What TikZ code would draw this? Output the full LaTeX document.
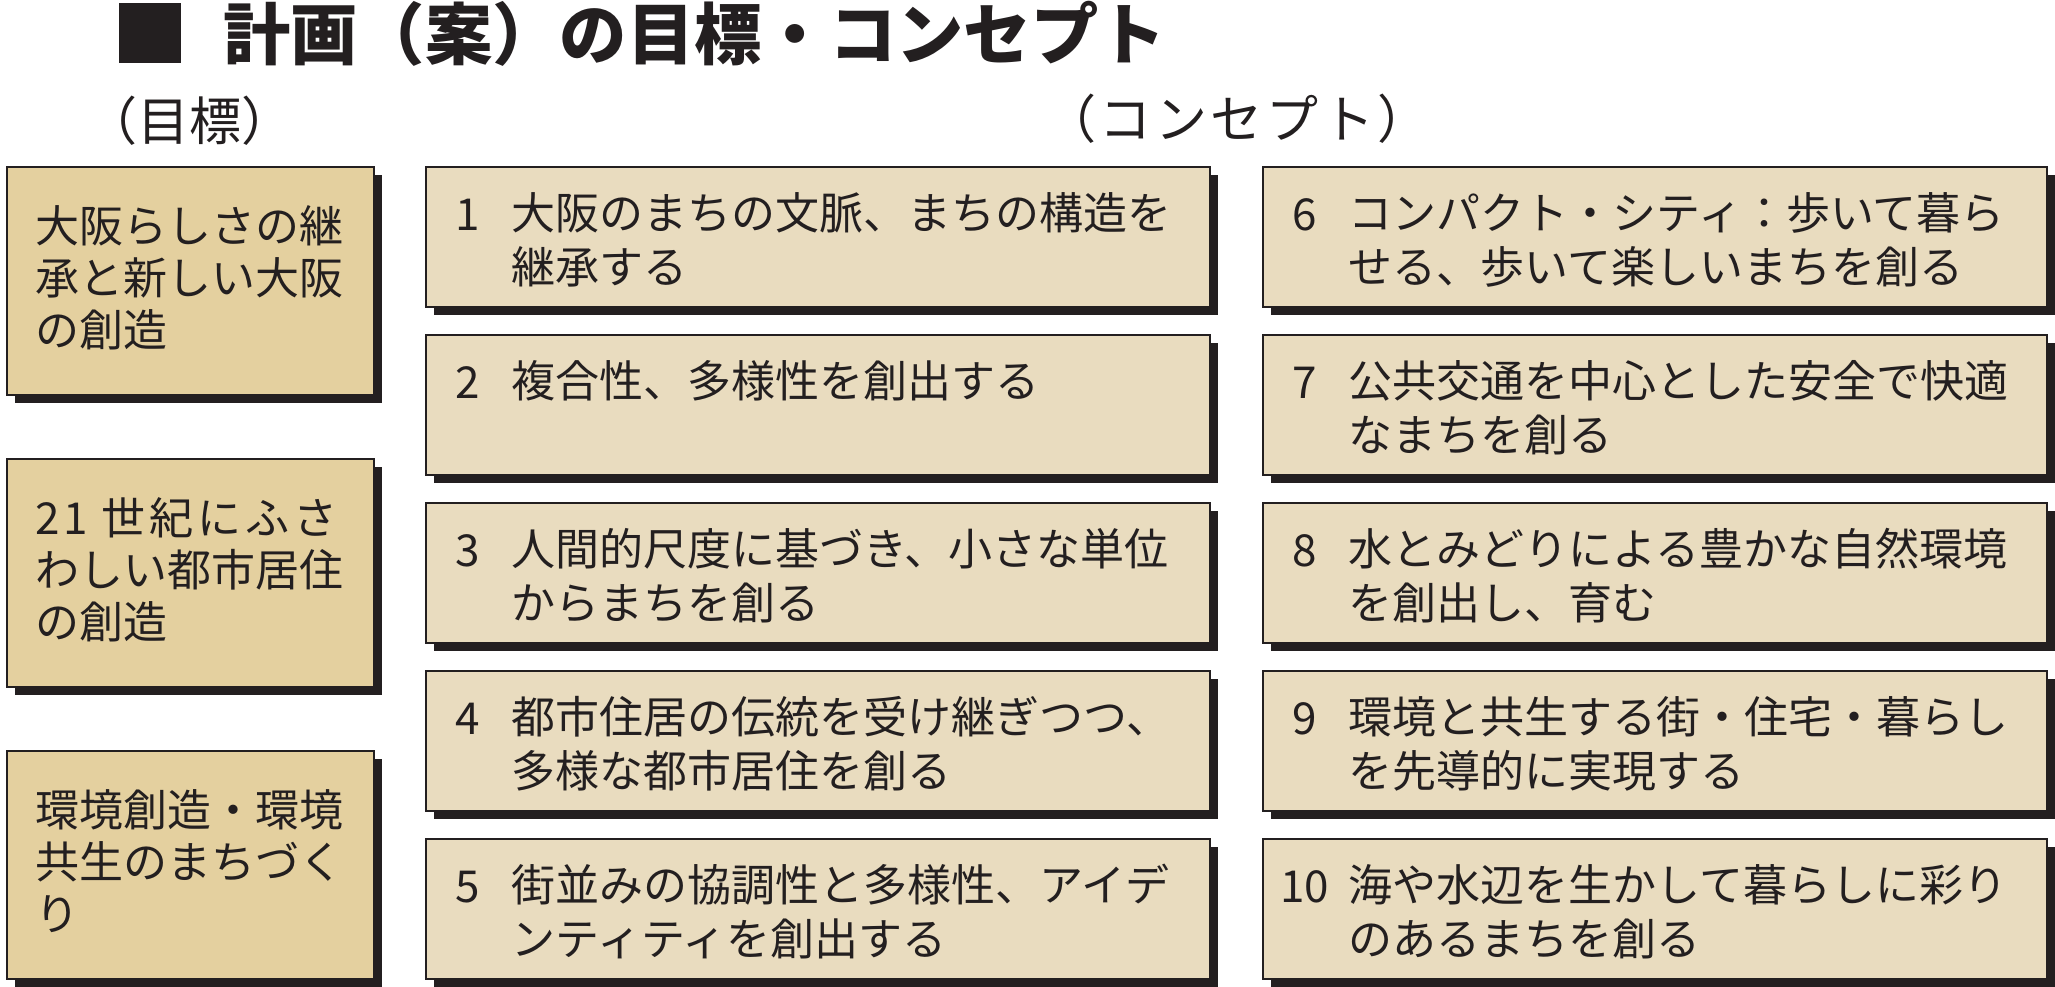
\documentclass[tikz,border=0pt]{standalone}
\usepackage{fontspec}
\setmainfont{Noto Sans CJK JP}
\usepackage{tikz}
\usetikzlibrary{positioning,shadows,calc}

\definecolor{goalfill}{HTML}{E4D09F}
\definecolor{conceptfill}{HTML}{E9DCBF}
\definecolor{inkdark}{HTML}{231F20}

\begin{document}
\begin{tikzpicture}[
  x=0.75pt, y=-0.75pt,
  goal/.style={draw=inkdark, line width=1.5pt, fill=goalfill, anchor=north west,
               minimum width=275pt, minimum height=171pt, inner sep=0pt, outer sep=0pt,
               drop shadow={shadow xshift=6pt, shadow yshift=-6pt, fill=inkdark, opacity=1}},
  concept/.style={goal, fill=conceptfill, minimum width=588pt, minimum height=105pt},
  goaltext/.style={anchor=north west, align=left, inner sep=0pt, text=inkdark,
                   font=\fontsize{33}{39}\selectfont},
  ctext/.style={goaltext, font=\fontsize{33}{40.5}\selectfont},
  num/.style={anchor=north, inner sep=0pt, text=inkdark, text height=28.4pt,
              font=\fontsize{33}{40.5}\selectfont},
  headtext/.style={inner sep=0pt, text=inkdark, font=\fontsize{39}{44}\selectfont}
]
\useasboundingbox (0,0) rectangle (2055,987);

% title
\node[fill=inkdark, minimum width=46.5pt, minimum height=45pt, inner sep=0pt] (sq) at (150,33) {};
\node[anchor=west, inner sep=0pt, text=inkdark, font=\fontsize{50.5}{56}\selectfont\bfseries] (title) at (223,34) {計画（案）の目標・コンセプト};
\node[headtext] (goalhead) at (189,121) {（目標）};
\node[headtext] (concepthead) at (1237,119) {\addfontfeatures{LetterSpace=7}（コンセプト）};

% goals
\node[goal] (g1) at (7,167) {};
\node[goal, below=48pt of g1.south west, anchor=north west] (g2) {};
\node[goal, below=48pt of g2.south west, anchor=north west] (g3) {};
\node[goaltext] (gt1) at ($(g1.north west)+(28,38)$) {大阪らしさの継\\承と新しい大阪\\の創造};
\node[goaltext] (gt2) at ($(g2.north west)+(28,38)$) {{\addfontfeatures{LetterSpace=9}21\hspace{10pt}世紀にふさ}\\わしい都市居住\\の創造};
\node[goaltext] (gt3) at ($(g3.north west)+(28,38)$) {環境創造・環境\\共生のまちづく\\り};

% concepts 1-5
\node[concept, right=39pt of g1.north east, anchor=north west] (c1) {};
\node[concept, below=21pt of c1.south west, anchor=north west] (c2) {};
\node[concept, below=21pt of c2.south west, anchor=north west] (c3) {};
\node[concept, below=21pt of c3.south west, anchor=north west] (c4) {};
\node[concept, below=21pt of c4.south west, anchor=north west] (c5) {};

% concepts 6-10
\node[concept, right=39.75pt of c1.north east, anchor=north west] (c6) {};
\node[concept, below=21pt of c6.south west, anchor=north west] (c7) {};
\node[concept, below=21pt of c7.south west, anchor=north west] (c8) {};
\node[concept, below=21pt of c8.south west, anchor=north west] (c9) {};
\node[concept, below=21pt of c9.south west, anchor=north west] (c10) {};

\node[num] (n1) at ($(c1.north west)+(42,25)$) {1};
\node[ctext] (t1) at ($(c1.north west)+(86,25)$) {大阪のまちの文脈、まちの構造を\\継承する};
\node[num] (n2) at ($(c2.north west)+(42,25)$) {2};
\node[ctext] (t2) at ($(c2.north west)+(86,25)$) {複合性、多様性を創出する};
\node[num] (n3) at ($(c3.north west)+(42,25)$) {3};
\node[ctext] (t3) at ($(c3.north west)+(86,25)$) {人間的尺度に基づき、小さな単位\\からまちを創る};
\node[num] (n4) at ($(c4.north west)+(42,25)$) {4};
\node[ctext] (t4) at ($(c4.north west)+(86,25)$) {都市住居の伝統を受け継ぎつつ、\\多様な都市居住を創る};
\node[num] (n5) at ($(c5.north west)+(42,25)$) {5};
\node[ctext] (t5) at ($(c5.north west)+(86,25)$) {街並みの協調性と多様性、アイデ\\ンティティを創出する};

\node[num] (n6) at ($(c6.north west)+(42,25)$) {6};
\node[ctext] (t6) at ($(c6.north west)+(86,25)$) {コンパクト・シティ：歩いて暮ら\\せる、歩いて楽しいまちを創る};
\node[num] (n7) at ($(c7.north west)+(42,25)$) {7};
\node[ctext] (t7) at ($(c7.north west)+(86,25)$) {公共交通を中心とした安全で快適\\なまちを創る};
\node[num] (n8) at ($(c8.north west)+(42,25)$) {8};
\node[ctext] (t8) at ($(c8.north west)+(86,25)$) {水とみどりによる豊かな自然環境\\を創出し、育む};
\node[num] (n9) at ($(c9.north west)+(42,25)$) {9};
\node[ctext] (t9) at ($(c9.north west)+(86,25)$) {環境と共生する街・住宅・暮らし\\を先導的に実現する};
\node[num] (n10) at ($(c10.north west)+(42,25)$) {10};
\node[ctext] (t10) at ($(c10.north west)+(86,25)$) {海や水辺を生かして暮らしに彩り\\のあるまちを創る};
\end{tikzpicture}
\end{document}
